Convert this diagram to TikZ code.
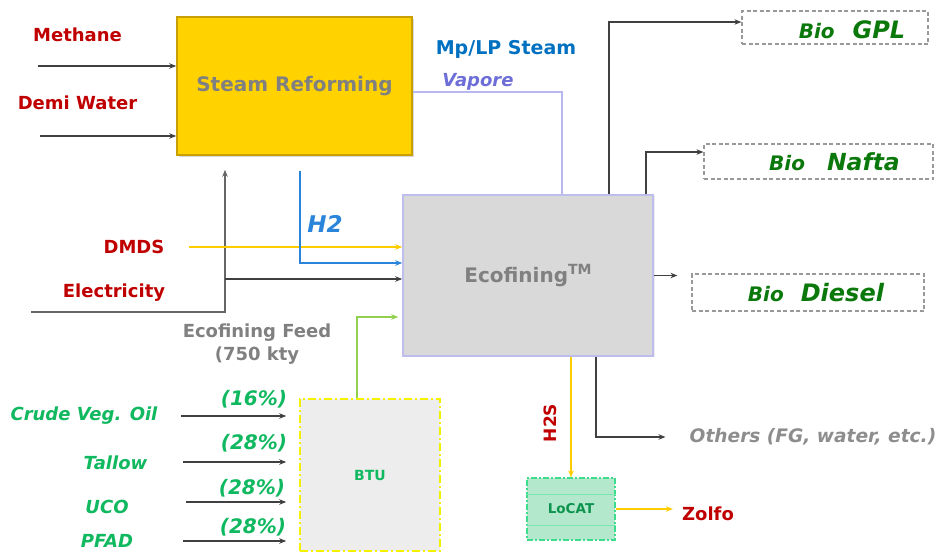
\documentclass[tikz,border=0pt]{standalone}
\usepackage{fontspec}
\setmainfont{DejaVu Sans}
\usetikzlibrary{arrows.meta,shadows}

\definecolor{redlab}{HTML}{C00000}
\definecolor{steamblue}{HTML}{0070C0}
\definecolor{vapcol}{HTML}{6E6ED8}
\definecolor{vapline}{HTML}{B8B8F0}
\definecolor{prodgreen}{HTML}{0A780A}
\definecolor{feedgreen}{HTML}{10B860}
\definecolor{feedline}{HTML}{92D050}
\definecolor{dmdsyellow}{HTML}{FFCC00}
\definecolor{h2blue}{HTML}{2A84DA}
\definecolor{flowgray}{HTML}{404040}
\definecolor{unitgray}{HTML}{808080}
\definecolor{srfill}{HTML}{FFD200}
\definecolor{srborder}{HTML}{C8A000}
\definecolor{ecofill}{HTML}{D9D9D9}
\definecolor{ecoborder}{HTML}{BEBEEE}
\definecolor{btufill}{HTML}{EDEDED}
\definecolor{btuborder}{HTML}{F2F200}
\definecolor{locfill}{HTML}{B4E8CC}
\definecolor{locborder}{HTML}{3CDC8C}
\definecolor{prodgray}{HTML}{999999}

\tikzset{
	txt/.style={inner sep=0pt,font=\bfseries\fontsize{18}{22}\selectfont},
	redtxt/.style={txt,text=redlab},
	feedtxt/.style={txt,font=\bfseries\itshape\fontsize{18}{22}\selectfont,text=feedgreen},
	pcttxt/.style={txt,font=\bfseries\itshape\fontsize{20}{22}\selectfont,text=feedgreen},
	unitbox/.style={draw,line width=1.5pt,inner sep=0pt,font=\bfseries\fontsize{20}{24}\selectfont,text=unitgray},
	prodbox/.style={draw=prodgray,dash pattern=on 4pt off 2.5pt,line width=1.2pt,inner sep=0pt},
	prodtxt/.style={txt,font=\bfseries\itshape\fontsize{20}{24}\selectfont,text=prodgreen},
	flow/.style={->,draw=flowgray,line width=1.3pt},
}

\begin{document}
\begin{tikzpicture}[>={Stealth[length=7pt,width=5.5pt]},x=1pt,y=-1pt]
	\useasboundingbox (0,0) rectangle (943,552);
	% process units
	\node[unitbox,draw=srborder,fill=srfill,minimum width=235pt,minimum height=138pt,
		drop shadow={shadow xshift=2pt,shadow yshift=-2pt,fill=black!30}] (sr) at (294.5,86) {Steam Reforming};
	\node[unitbox,draw=ecoborder,fill=ecofill,minimum width=250pt,minimum height=161pt,
		drop shadow={shadow xshift=1.5pt,shadow yshift=-1pt,fill=black!15}] (eco) at (528,275.5)
		{Ecofining\raisebox{8pt}{\fontsize{14}{14}\selectfont TM}};
	\node[unitbox,draw=btuborder,fill=btufill,line width=1.5pt,dash pattern=on 8pt off 3pt on 2pt off 3pt,
		minimum width=140pt,minimum height=152pt,font=\bfseries\fontsize{14}{16}\selectfont,text=feedgreen] (btu) at (370,475) {BTU};
	\node[unitbox,draw=locborder,fill=locfill,line width=1.2pt,dash pattern=on 6pt off 2pt on 2pt off 2pt,
		minimum width=88pt,minimum height=62pt,font=\bfseries\fontsize{13.5}{16}\selectfont,text=feedgreen!80!black] (loc) at (571,509) {LoCAT};
	\draw[locborder!70,line width=.7pt] ([yshift=15pt]loc.west) -- ([yshift=15pt]loc.east)
		([yshift=-16pt]loc.west) -- ([yshift=-16pt]loc.east);

	% products
	\node[prodbox,minimum width=186pt,minimum height=33pt] (gpl) at (835,27.5) {};
	\node[prodbox,minimum width=229pt,minimum height=35pt] (naf) at (818.5,161.5) {};
	\node[prodbox,minimum width=232pt,minimum height=37pt] (dsl) at (808,292.5) {};
	\node[prodtxt] (gpltxt) at (852,30) {Bio\hspace{18pt}{\fontsize{24}{28}\selectfont GPL}};
	\node[prodtxt] (naftxt) at (834.5,162) {Bio\hspace{22pt}{\fontsize{23.5}{28}\selectfont Nafta}};
	\node[prodtxt] (dsltxt) at (816,293) {Bio\hspace{17pt}{\fontsize{24}{28}\selectfont Diesel}};
	\node[txt,font=\bfseries\itshape\fontsize{18.6}{22}\selectfont,text=unitgray!90!white] (oth) at (813,437) {Others (FG, water, etc.)};
	\node[redtxt] (zol) at (708,514) {Zolfo};

	% inputs
	\node[redtxt] (meth) at (77.5,35) {Methane};
	\node[redtxt] (demi) at (77.5,103) {Demi Water};
	\node[redtxt] (dmds) at (134,247) {DMDS};
	\node[redtxt] (elec) at (114,293) {Electricity};
	\node[txt,text=steamblue,font=\bfseries\fontsize{19}{22}\selectfont] (mplp) at (506,49) {Mp/LP Steam};
	\node[txt,text=vapcol,font=\bfseries\itshape\fontsize{18}{22}\selectfont] (vap) at (478,82) {Vapore};
	\node[txt,text=h2blue,font=\bfseries\itshape\fontsize{23}{26}\selectfont] (h2lab) at (325,224) {H2};
	\node[txt,text=unitgray,align=center,font=\bfseries\fontsize{18}{23}\selectfont] (feed) at (257,344) {Ecofining Feed\\(750 kty};
	\node[txt,text=redlab,rotate=90,font=\bfseries\fontsize{17}{20}\selectfont] (h2s) at (550,423) {H2S};

	\node[feedtxt] (cvo) at (84,416) {Crude Veg. Oil};
	\node[feedtxt] (tal) at (115.5,463) {Tallow};
	\node[feedtxt] (uco) at (107,507) {UCO};
	\node[feedtxt] (pfad) at (107,541) {PFAD};
	\node[pcttxt] (p1) at (254,399) {(16\%)};
	\node[pcttxt] (p2) at (254,443) {(28\%)};
	\node[pcttxt] (p3) at (252,488) {(28\%)};
	\node[pcttxt] (p4) at (253,527) {(28\%)};

	% connectors
	\coordinate (me) at (38,66);
	\coordinate (dw) at (40,136);
	\draw[flow] (me) -- (me -| sr.west);
	\draw[flow] (dw) -- (dw -| sr.west);

	\coordinate (vp) at (562,92);
	\draw[vapline,line width=1.5pt] (sr.east |- vp) -- (vp) -- (vp |- eco.north);

	\coordinate (el0) at (31,312);
	\coordinate (el1) at (225,312);
	\coordinate (ein) at ([yshift=-3.5pt]eco.west);
	\draw[flow,draw=flowgray!80,shorten >=14pt] (el0) -- (el1) -- (el1 |- sr.south);
	\draw[flow] (el1 |- ein) -- (ein);

	\coordinate (dm) at (189,247);
	\draw[flow,draw=dmdsyellow] (dm) -- (dm -| eco.west);
	\coordinate (h2) at (300,171);
	\draw[flow,draw=h2blue,line width=1.5pt] (h2) |- ([yshift=12.5pt]eco.west);
	\draw[flow,draw=feedline,line width=1.5pt,shorten >=4pt] ([xshift=-13pt]btu.north) |- ([yshift=-41.5pt]eco.west);

	\coordinate (g1) at (609,22);
	\coordinate (n1) at (646,152);
	\draw[flow] (g1 |- eco.north) -- (g1) -- (g1 -| gpl.west);
	\draw[flow] (n1 |- eco.north) -- (n1) -- (n1 -| naf.west);
	\draw[flow,shorten >=14pt] (eco.east) -- (eco.east -| dsl.west);
	\coordinate (o1) at (596,437);
	\draw[flow,shorten >=24pt] (o1 |- eco.south) -- (o1) -- (oth.west);

	\draw[flow,draw=dmdsyellow] (eco.south -| loc.north) -- (loc.north);
	\draw[flow,draw=dmdsyellow,shorten >=9pt] (loc.east) -- (loc.east -| zol.west);

	\coordinate (f1) at (181,416);
	\coordinate (f2) at (183,462);
	\coordinate (f3) at (186,502);
	\coordinate (f4) at (183,541);
	\draw[flow,shorten >=13pt] (f1) -- (f1 -| btu.west);
	\draw[flow,shorten >=13pt] (f2) -- (f2 -| btu.west);
	\draw[flow,shorten >=13pt] (f3) -- (f3 -| btu.west);
	\draw[flow,shorten >=13pt] (f4) -- (f4 -| btu.west);
\end{tikzpicture}
\end{document}
